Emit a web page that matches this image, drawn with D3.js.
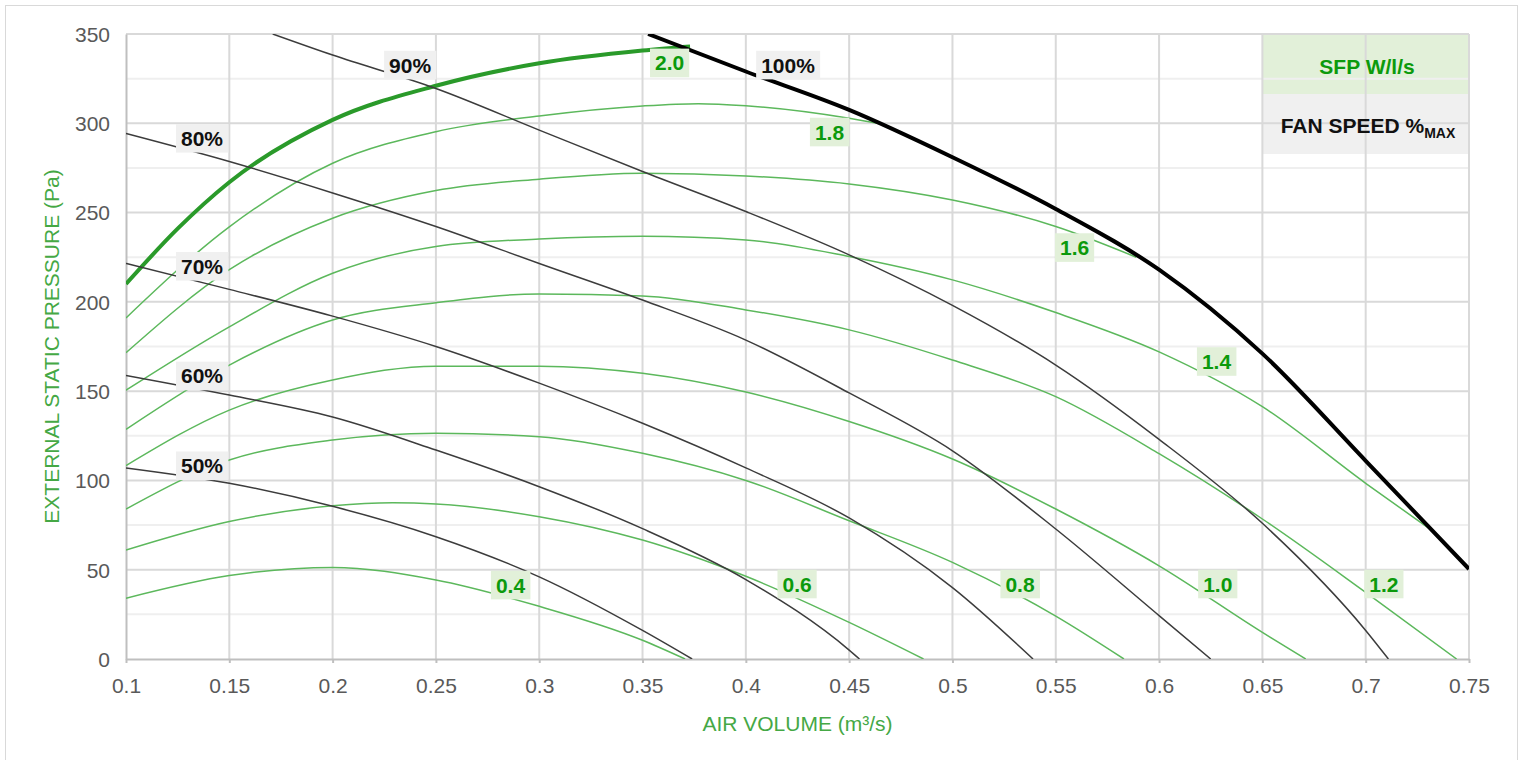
<!DOCTYPE html>
<html>
<head>
<meta charset="utf-8">
<script src="https://cdn.jsdelivr.net/npm/d3@7"></script>
<style>
body{margin:0;background:#fff}
svg{display:block;font-family:"Liberation Sans",Arial,sans-serif}
</style>
</head>
<body>
<div id="chart"></div>
<script>
///data: air volume (m3/s), pressure (Pa)
const xTicks = [0.1,0.15,0.2,0.25,0.3,0.35,0.4,0.45,0.5,0.55,0.6,0.65,0.7,0.75];
const yTicks = [0,50,100,150,200,250,300,350];
const yMinor = [25,75,125,175,225,275,325];

///fan speed curves
const fanNames = ["50%","60%","70%","80%","90%","100%"];
const fan50 = [[0.1,107],[0.15,98.4],[0.2,85.5],[0.25,68.5],[0.3,46],[0.35,16],[0.374,0]];
const fan60 = [[0.1,158.8],[0.15,147.8],[0.2,135.5],[0.25,117],[0.3,96.5],[0.35,73],[0.4,44.5],[0.45,5],[0.455,0]];
const fan70 = [[0.1,221.5],[0.15,207],[0.2,192],[0.25,175],[0.3,154.5],[0.35,132],[0.4,107],[0.45,79],[0.5,40],[0.539,0]];
const fan80 = [[0.1,294.3],[0.15,278.6],[0.2,261],[0.25,242.2],[0.3,221.5],[0.35,201],[0.4,178.6],[0.45,149],[0.5,116.6],[0.55,72.8],[0.6,24.3],[0.625,0]];
const fan90 = [[0.171,350],[0.2,338.2],[0.25,319.5],[0.3,296.2],[0.35,273],[0.4,250.6],[0.45,226.3],[0.5,198],[0.55,164.6],[0.6,123],[0.65,76],[0.7,16],[0.711,0]];
const fan100 = [[0.3527,350],[0.4,329],[0.45,307.5],[0.5,281],[0.55,252],[0.6,218],[0.65,171],[0.7,111],[0.75,50.4]];
const fanLabelQ = [0.1368,0.1368,0.1368,0.1368,0.2375,0.4204];
const fanLabelP = [108.2,158.5,219.9,291.6,332.6,332.6];

///SFP curves (W/l/s)
const sfpNames = ["0.4","0.6","0.8","1.0","1.2","1.4","1.6","1.8","2.0"];
const sfp04 = [[0.1,34],[0.15,46.7],[0.2,51.3],[0.25,44.3],[0.3,29.5],[0.35,10.5],[0.3706,0]];
const sfp06 = [[0.1,61],[0.15,77],[0.2,85.8],[0.229,87.5],[0.25,86.8],[0.3,79.7],[0.35,66.6],[0.4,46.3],[0.45,20.5],[0.486,0]];
const sfp08 = [[0.1,84],[0.15,111.4],[0.2,122.6],[0.25,126.4],[0.3,124.5],[0.35,115.2],[0.4,100],[0.45,77.4],[0.5,54.1],[0.55,24],[0.583,0]];
const sfp10 = [[0.1,108.3],[0.15,139.4],[0.2,156.2],[0.25,164],[0.3,164],[0.35,160],[0.4,149.5],[0.45,133],[0.5,112],[0.55,84],[0.6,52.2],[0.65,14.9],[0.671,0]];
const sfp12 = [[0.1,128.6],[0.15,164.6],[0.2,189.8],[0.25,199.5],[0.3,204.4],[0.35,203.3],[0.4,195.5],[0.45,184.3],[0.5,167.4],[0.55,146.9],[0.6,115],[0.65,78.4],[0.7,37.3],[0.744,0]];
const sfp14 = [[0.1,150.5],[0.15,186],[0.2,216],[0.25,231],[0.3,235.2],[0.35,236.8],[0.4,234.7],[0.45,225.4],[0.5,212.3],[0.55,194],[0.6,172],[0.65,141.3],[0.7,98.4],[0.732,72]];
const sfp16 = [[0.1,171.5],[0.15,218],[0.2,246.8],[0.25,262.3],[0.3,268.7],[0.35,272],[0.4,270.5],[0.45,266],[0.5,257],[0.55,242.2],[0.589,225]];
const sfp18 = [[0.1,191],[0.15,242],[0.2,277.6],[0.25,295.3],[0.3,304.1],[0.35,309.7],[0.377,311],[0.4,309.8],[0.45,302.8],[0.468,299]];
const sfp20 = [[0.1,210],[0.125,241],[0.15,267],[0.2,301.9],[0.25,321],[0.3,333.6],[0.35,340.7],[0.373,343]];
const sfpLabelQ = [0.2861,0.4248,0.5327,0.6284,0.7088,0.6278,0.5591,0.4405,0.3631];
const sfpLabelP = [41.4,42,42,42,42,166.6,230.4,295.1,333.8];

const fanCurves = [fan50,fan60,fan70,fan80,fan90,fan100];
const sfpCurves = [sfp04,sfp06,sfp08,sfp10,sfp12,sfp14,sfp16,sfp18,sfp20];

///vars
let w = 1523,
h = 760;
const padL = 126, padR = 1469, padT = 34, padB = 659;

let svg = d3.select("#chart").
append("svg").
attr("width", w).
attr("height", h);

svg.append("rect").
attr("x", 5.5).attr("y", 5.5).
attr("width", 1512).attr("height", 780).
attr("fill", "#fff").attr("stroke", "#d9d9d9");

const x = d3.scaleLinear().domain([0.1, 0.75]).range([padL, padR]);
const y = d3.scaleLinear().domain([0, 350]).range([padB, padT]);

///legend boxes (under the grid)
svg.append("rect").
attr("x", x(0.65)).attr("y", y(350)).
attr("width", x(0.75) - x(0.65)).attr("height", y(316.4) - y(350)).
attr("fill", "#e2f0d9");
svg.append("rect").
attr("x", x(0.65)).attr("y", y(316.4)).
attr("width", x(0.75) - x(0.65)).attr("height", y(316.4) - y(350)).
attr("fill", "#f0f0f0");

///grid
svg.append("g").
selectAll("line").
data(yMinor).
join("line").
attr("x1", padL).attr("x2", padR).
attr("y1", d => y(d)).attr("y2", d => y(d)).
attr("stroke", "#efefef").attr("stroke-width", 2);
svg.append("g").
selectAll("line").
data(yTicks.slice(1)).
join("line").
attr("x1", padL).attr("x2", padR).
attr("y1", d => y(d)).attr("y2", d => y(d)).
attr("stroke", "#d9d9d9").attr("stroke-width", 2);
svg.append("g").
selectAll("line").
data(xTicks.slice(1)).
join("line").
attr("x1", d => x(d)).attr("x2", d => x(d)).
attr("y1", padT).attr("y2", padB).
attr("stroke", "#d9d9d9").attr("stroke-width", 2);

///axes
const xAxis = svg.append("g").
attr("transform", "translate(0," + padB + ")").
call(d3.axisBottom(x).tickValues(xTicks).tickFormat(d => String(+d.toFixed(2))).tickSize(4).tickSizeOuter(0));
xAxis.select(".domain").attr("stroke", "#bfbfbf").attr("stroke-width", 2);
xAxis.selectAll(".tick line").attr("stroke", "#bfbfbf").attr("stroke-width", 2);
xAxis.selectAll("text").
attr("y", 27).attr("dy", "0.35em").
attr("fill", "#595959").
style("font-size", "21px").style("font-family", "Liberation Sans, Arial, sans-serif");

const yAxis = svg.append("g").
attr("transform", "translate(" + padL + ",0)").
call(d3.axisLeft(y).tickValues(yTicks).tickSize(0).tickSizeOuter(0));
yAxis.select(".domain").attr("stroke", "#bfbfbf").attr("stroke-width", 2);
yAxis.selectAll("text").
attr("x", -16).attr("dy", "0.35em").
attr("fill", "#595959").
style("font-size", "21px").style("font-family", "Liberation Sans, Arial, sans-serif");

///titles
svg.append("text").
attr("x", (padL + padR) / 2).attr("y", 723).
attr("text-anchor", "middle").attr("dominant-baseline", "central").
attr("fill", "#45a845").style("font-size", "21px").
text("AIR VOLUME (m³/s)");
svg.append("text").
attr("transform", "translate(51," + (padT + padB) / 2 + ") rotate(-90)").
attr("text-anchor", "middle").attr("dominant-baseline", "central").
attr("fill", "#45a845").style("font-size", "21px").
text("EXTERNAL STATIC PRESSURE (Pa)");

///curves
svg.append("clipPath").attr("id", "plot").
append("rect").attr("x", padL).attr("y", padT).
attr("width", padR - padL).attr("height", padB - padT);

const line = d3.line().
x(d => x(d[0])).
y(d => y(d[1])).
curve(d3.curveMonotoneX);

const curves = svg.append("g").attr("clip-path", "url(#plot)");
curves.selectAll(".sfp").
data(sfpCurves).
join("path").
attr("class", "sfp").
attr("d", line).
attr("fill", "none").
attr("stroke", (d, i) => i === sfpCurves.length - 1 ? "#2a9a2a" : "#5cb85c").
attr("stroke-width", (d, i) => i === sfpCurves.length - 1 ? 4 : 1.5);
curves.selectAll(".fan").
data(fanCurves).
join("path").
attr("class", "fan").
attr("d", line).
attr("fill", "none").
attr("stroke", (d, i) => i === fanCurves.length - 1 ? "#000" : "#3c3c3c").
attr("stroke-width", (d, i) => i === fanCurves.length - 1 ? 4 : 1.5);

///labels
function label(txt, q, p, color, bg) {
  const g = svg.append("g");
  const t = g.append("text").
  attr("x", x(q)).attr("y", y(p)).
  attr("text-anchor", "middle").attr("dominant-baseline", "central").
  attr("fill", color).
  style("font-size", "21px").style("font-weight", "bold").
  text(txt);
  const b = t.node().getBBox();
  g.insert("rect", "text").
  attr("x", b.x - 5).attr("y", y(p) - 14.3).
  attr("width", b.width + 10).attr("height", 28.6).
  attr("fill", bg);
}
fanNames.forEach((n, i) => label(n, fanLabelQ[i], fanLabelP[i], "#111", "#f0f0f0"));
sfpNames.forEach((n, i) => label(n, sfpLabelQ[i], sfpLabelP[i], "#0c9a0c", "#e2f0d9"));

///legend texts
svg.append("text").
attr("x", 1367).attr("y", 66).
attr("text-anchor", "middle").attr("dominant-baseline", "central").
attr("fill", "#0c9a0c").
style("font-size", "21px").style("font-weight", "bold").
text("SFP W/l/s");
const fs = svg.append("text").
attr("x", 1368).attr("y", 133).
attr("text-anchor", "middle").
attr("fill", "#111").
style("font-size", "21px").style("font-weight", "bold");
fs.append("tspan").text("FAN SPEED %");
fs.append("tspan").attr("dy", 5).style("font-size", "14px").text("MAX");
</script>
</body>
</html>
